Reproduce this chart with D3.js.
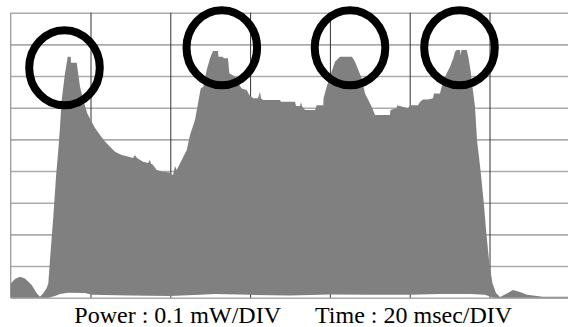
<!DOCTYPE html>
<html>
<head>
<meta charset="utf-8">
<script src="https://cdn.jsdelivr.net/npm/d3@7"></script>
<style>
  html, body { margin: 0; padding: 0; background: #fff; }
  svg { display: block; }
</style>
</head>
<body>
<svg id="chart" width="568" height="327"></svg>
<script>
// ---- data (time in msec, power in mW) ----
const upperTime = [0,1.08,2.33,3.58,5.26,6.52,7.34,8.17,9.02,9.42,10.03,10.68,11.35,11.93,12.36,12.78,13.61,14.29,15.04,15.11,16.54,17.37,18.2,19.2,20.3,21.13,22.38,23.63,24.89,26.14,27.82,29.15,30.65,31.15,31.65,33.16,34.41,34.91,35.16,35.67,36.59,38.17,39.92,40.68,41.18,41.6,42.86,44.11,44.94,46.19,47.62,48.27,49.12,49.95,50.7,51.95,52.08,53.21,53.33,54.46,54.79,56.22,56.97,57.89,59.15,59.8,60.8,61.98,62.48,62.73,63.23,67.49,67.74,71.25,71.5,72.51,72.76,73.0,73.76,76.27,76.69,78.35,78.4,79.2,80.45,81.28,82.53,85.54,86.29,87.12,87.97,88.8,89.62,90.48,91.3,95.06,95.19,96.74,96.82,99.57,100.08,102.08,102.58,103.33,104.59,105.84,106.09,107.59,108.02,109.27,110.1,110.93,111.35,111.78,112.61,112.73,112.98,114.29,114.69,115.29,115.61,116.37,116.87,117.74,118.5,119.25,120.0,120.75,121.63,122.63,124.13,125.89,127.64,129.39,133.4,139.7];
const upperPower = [0.045,0.059,0.066,0.061,0.040,0.014,0.003,0.014,0.031,0.045,0.151,0.256,0.382,0.466,0.540,0.624,0.709,0.761,0.761,0.742,0.742,0.666,0.624,0.582,0.555,0.536,0.514,0.493,0.477,0.461,0.451,0.447,0.441,0.451,0.441,0.429,0.425,0.435,0.424,0.419,0.403,0.398,0.395,0.387,0.416,0.403,0.435,0.466,0.514,0.561,0.661,0.666,0.719,0.756,0.779,0.779,0.761,0.761,0.756,0.756,0.709,0.698,0.678,0.661,0.656,0.640,0.630,0.630,0.650,0.630,0.624,0.624,0.619,0.619,0.605,0.605,0.618,0.605,0.593,0.593,0.608,0.608,0.630,0.666,0.714,0.745,0.761,0.761,0.745,0.719,0.693,0.645,0.624,0.603,0.577,0.577,0.593,0.599,0.608,0.598,0.608,0.608,0.618,0.626,0.626,0.630,0.645,0.645,0.666,0.709,0.729,0.756,0.777,0.782,0.782,0.766,0.782,0.782,0.761,0.714,0.677,0.603,0.498,0.403,0.308,0.198,0.103,0.046,0.015,0.002,0.012,0.024,0.018,0.009,0.003,0.003];
const lowerTime = [9.42,11.1,12.36,14.36,18.62,20.38,29.9,39.92,47.44,51.2,59.97,70.0,80.03,90.05,100.08,107.59,115.1,118.9,120.9];
const lowerPower = [0,0.005,0.012,0.016,0.015,0.009,0.007,0.005,0.009,0.012,0.009,0.007,0.010,0.009,0.009,0.012,0.012,0.009,0];
const powerTicks = [0,0.1,0.2,0.3,0.4,0.5,0.6,0.7,0.8,0.9];
const timeTicks = [20,40,60,80,100,120];
const peakTime = [13.48,52.91,85.04,112.48];
const peakPower = [0.7262,0.7893,0.7893,0.7893];
const captionPower = "Power : 0.1 mW/DIV";
const captionTime = "Time : 20 msec/DIV";

// ---- layout ----
const W = 568, H = 327;
const plotLeft = 10.7, plotTop = 12.7, plotBottom = 297.7;
const x = d3.scaleLinear().domain([0, 140]).range([plotLeft, plotLeft + 140 * 3.99]);
const y = d3.scaleLinear().domain([0, 0.9]).range([plotBottom, plotTop]);

const svg = d3.select("#chart");

// horizontal grid (power divisions)
const gy = svg.append("g")
  .attr("transform", `translate(${plotLeft},0)`)
  .call(d3.axisLeft(y).tickValues(powerTicks).tickSize(-(W - plotLeft)).tickFormat(""));
gy.select(".domain").remove();
gy.selectAll(".tick line").attr("stroke", "#ababab").attr("stroke-width", 1.6);

// left border
svg.append("line")
  .attr("x1", x(0)).attr("x2", x(0)).attr("y1", y(0.9)).attr("y2", y(0))
  .attr("stroke", "#9a9a9a").attr("stroke-width", 1.3);

// vertical grid (time divisions)
const gx = svg.append("g")
  .attr("transform", `translate(0,${plotBottom})`)
  .call(d3.axisBottom(x).tickValues(timeTicks).tickSize(-(plotBottom - plotTop)).tickFormat(""));
gx.select(".domain").remove();
gx.selectAll(".tick line").attr("stroke", "#333").attr("stroke-width", 1);

// signal envelope polygon
const upperPts = upperTime.map((t, i) => [t, upperPower[i]]);
const lowerPts = lowerTime.map((t, i) => [t, lowerPower[i]]).reverse();
const poly = [[0, 0], ...upperPts, [upperTime[upperTime.length - 1], 0], ...lowerPts];
const line = d3.line().x(d => x(d[0])).y(d => y(d[1])).curve(d3.curveLinear);
svg.append("path")
  .attr("d", line(poly) + "Z")
  .attr("fill", "#808080")
  .attr("stroke", "none");

// highlight ellipses
svg.selectAll("ellipse.peak")
  .data(peakTime.map((t, i) => [t, peakPower[i]]))
  .enter().append("ellipse")
  .attr("class", "peak")
  .attr("cx", d => x(d[0]))
  .attr("cy", d => y(d[1]))
  .attr("rx", 35.3)
  .attr("ry", 37.6)
  .attr("fill", "none")
  .attr("stroke", "#000")
  .attr("stroke-width", 8);

// caption
svg.append("text")
  .attr("x", 281).attr("y", 323)
  .attr("text-anchor", "end")
  .attr("font-family", "'Liberation Serif', 'Times New Roman', serif")
  .attr("font-size", 24)
  .attr("fill", "#000")
  .text(captionPower);
svg.append("text")
  .attr("x", 315).attr("y", 323)
  .attr("text-anchor", "start")
  .attr("font-family", "'Liberation Serif', 'Times New Roman', serif")
  .attr("font-size", 24)
  .attr("fill", "#000")
  .text(captionTime);
</script>
</body>
</html>
